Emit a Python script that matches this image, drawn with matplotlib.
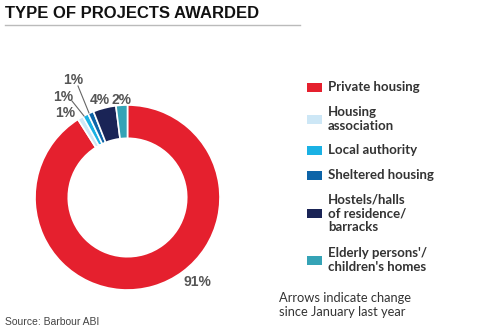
import matplotlib.pyplot as plt
from matplotlib.patches import Rectangle

# ---------------- data ----------------
categories = ["Private housing", "Housing\nassociation", "Local authority",
              "Sheltered housing", "Hostels/halls\nof residence/\nbarracks",
              "Elderly persons'/\nchildren's homes"]
shares = [91, 1, 1, 1, 4, 2]
share_labels = ["91%", "1%", "1%", "1%", "4%", "2%"]
colors = ["#E5202E", "#CDE7F6", "#1AB1E4", "#0D64A8", "#1A2456", "#35A3B6"]

W, H = 480, 336
fig = plt.figure(figsize=(W / 100, H / 100), dpi=100)
ax = fig.add_axes([0, 0, 1, 1])

def py(y):  # pixel y (from top) -> axes y
    return H - y

cx, cy, r = 127.5, py(197.5), 92.5
ax.pie(shares, colors=colors, startangle=90, counterclock=False,
       center=(cx, cy), radius=r,
       wedgeprops=dict(width=r * 0.36, edgecolor="white", linewidth=1.2))
ax.set_xlim(0, W)
ax.set_ylim(0, H)
ax.set_aspect("equal")
ax.axis("off")

lab_col = "#555555"
lab_kw = dict(fontsize=10, fontweight="bold", color=lab_col, family="Liberation Sans",
              ha="center", va="center")
ax.text(197, py(282), share_labels[0], **lab_kw)
ax.text(65, py(113), share_labels[1], **lab_kw)
ax.text(63, py(97), share_labels[2], **lab_kw)
ax.text(73, py(80), share_labels[3], **lab_kw)
ax.text(100, py(100), share_labels[4], **lab_kw)
ax.text(121, py(100), share_labels[5], **lab_kw)
# leader lines
ax.plot([72, 84], [py(101), py(116)], color="#666666", lw=0.8)
ax.plot([78, 89], [py(86), py(113)], color="#666666", lw=0.8)

# title
ax.text(5, py(13), "TYPE OF PROJECTS AWARDED", fontsize=12, fontweight="heavy",
        family="Liberation Sans", color="#111111", ha="left", va="center")
ax.plot([5, 300], [py(25), py(25)], color="#BBBBBB", lw=1)

# legend
leg_y = [87, 119, 150, 175, 213, 260]
for c, lab, yy in zip(colors, categories, leg_y):
    ax.add_patch(Rectangle((307, py(yy) - 4.5), 15, 9, color=c, lw=0))
    ax.text(328, py(yy), lab, fontsize=9.5, fontweight="bold", family="Lato",
            color="#333333", ha="left", va="center", linespacing=1.2)

ax.text(279, py(305), "Arrows indicate change\nsince January last year", fontsize=9.3,
        family="Lato", color="#333333", ha="left", va="center", linespacing=1.25)
ax.text(5, py(322), "Source: Barbour ABI", fontsize=7.5, family="Liberation Sans",
        color="#444444", ha="left", va="center")

plt.savefig("out.png", dpi=100)
